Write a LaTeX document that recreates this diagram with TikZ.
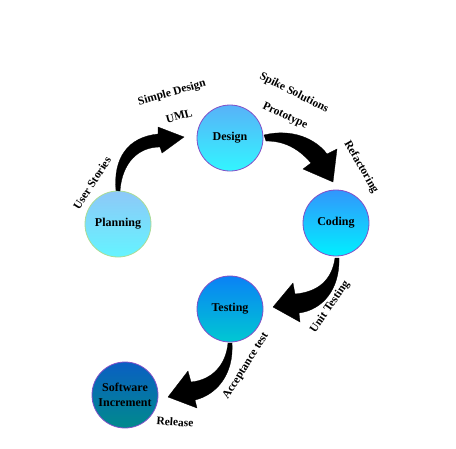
\documentclass[tikz,border=0pt]{standalone}
\usepackage{fontspec}
\setmainfont{Liberation Serif}
\begin{document}
\begin{tikzpicture}[x=1pt,y=-1pt,
  phase/.style={circle, minimum size=66pt, inner sep=0pt, line width=0.8pt,
    font=\fontsize{12}{15}\selectfont\bfseries, align=center},
  lbl/.style={font=\fontsize{11.5}{13}\selectfont\bfseries, inner sep=0pt},
  blockarrow/.style={fill=black, draw=black, line width=0.3pt, line join=miter}]
\useasboundingbox (0,0) rectangle (456,448);
\fill[white] (0,0) rectangle (456,448);

\node[phase, draw={rgb,255:red,170;green,220;blue,150}, top color={rgb,255:red,142;green,200;blue,248}, bottom color={rgb,255:red,100;green,244;blue,255}] (plan) at (118,224) {Planning};
\node[phase, draw={rgb,255:red,130;green,80;blue,200}, top color={rgb,255:red,88;green,178;blue,248}, bottom color={rgb,255:red,50;green,245;blue,255}] (design) at (230,138) {Design};
\node[phase, draw={rgb,255:red,130;green,80;blue,200}, top color={rgb,255:red,50;green,150;blue,252}, bottom color={rgb,255:red,0;green,240;blue,255}] (coding) at (336,223) {Coding};
\node[phase, draw={rgb,255:red,130;green,80;blue,200}, top color={rgb,255:red,10;green,130;blue,245}, bottom color={rgb,255:red,0;green,200;blue,210}] (testing) at (230,309) {Testing};
\node[phase, draw={rgb,255:red,130;green,80;blue,200}, top color={rgb,255:red,10;green,95;blue,195}, bottom color={rgb,255:red,0;green,138;blue,140}] (soft) at (125,395) {Software\\Increment};

% block arrows
\fill[blockarrow] (plan.north) ++(-2,0) .. controls (113,158) and (128,137) .. (158,134) -- (158,127) -- (184,137) -- (162,153) -- (160,147) .. controls (138,147) and (122,163) .. (120,191) -- cycle;
\fill[blockarrow] (264,135) .. controls (292,128) and (316,139) .. (327,154) -- (337,149) -- (333,182) -- (303,169) -- (311,163) .. controls (298,148) and (284,141) .. (266,141) -- cycle;
\fill[blockarrow] (339,258) .. controls (340,290) and (322,310) .. (299,313) -- (300,322) -- (273,307) -- (293,283) -- (295,294) .. controls (318,292) and (332,280) .. (335,258) -- cycle;
\fill[blockarrow] (232,343) .. controls (234,375) and (216,395) .. (195,400) -- (197,408) -- (168,397) -- (188,371) -- (191,382) .. controls (212,380) and (226,365) .. (228,343) -- cycle;

% labels
\node[lbl, rotate=57] (us) at (92,183) {User Stories};
\node[lbl, rotate=16] (sd) at (172,93) {Simple Design};
\node[lbl, rotate=15] (uml) at (179,116) {UML};
\node[lbl, rotate=-27] (ss) at (294,93) {Spike Solutions};
\node[lbl, rotate=-25] (proto) at (285,116) {Prototype};
\node[lbl, rotate=-60] (ref) at (361,167) {Refactoring};
\node[lbl, rotate=55] (ut) at (330,307) {Unit Testing};
\node[lbl, rotate=58] (at) at (246,366) {Acceptance test};
\node[lbl, rotate=-4] (rel) at (175,422) {Release};
\end{tikzpicture}
\end{document}
